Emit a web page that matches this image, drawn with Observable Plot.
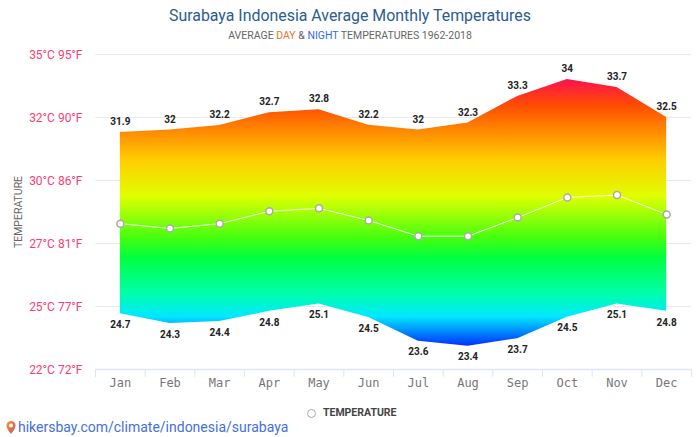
<!DOCTYPE html>
<html><head><meta charset="utf-8">
<script src="https://cdn.jsdelivr.net/npm/d3@7"></script>
<script src="https://cdn.jsdelivr.net/npm/@observablehq/plot@0.6"></script>
<style>
html,body{margin:0;padding:0;background:#fff;overflow:hidden;width:700px;height:437px;font-family:Roboto,sans-serif;position:relative}
.abs{position:absolute;white-space:nowrap}
#chart{position:absolute;left:0;top:40px}
#chart svg{background:transparent;display:block}
</style></head><body>
<div class="abs" style="left:0;width:700px;top:6px;text-align:center;font-size:15.9px;line-height:20px;color:#2b5c92">Surabaya Indonesia Average Monthly Temperatures</div>
<div class="abs" style="left:0;width:700px;top:29px;text-align:center;font-size:10.5px;line-height:14px;color:#666">AVERAGE <span style="color:#f4702c">DAY</span> &amp; <span style="color:#2f6bf0">NIGHT</span> TEMPERATURES 1962-2018</div>
<div id="chart"></div>
<div class="abs" style="left:307px;top:409px;width:7px;height:7px;border:1.5px solid #aaa;border-radius:50%;background:#fff"></div>
<div class="abs" style="left:323px;top:406px;font-size:10.5px;line-height:14px;font-weight:700;color:#444">TEMPERATURE</div>
<svg class="abs" style="left:5px;top:420px" width="12" height="15" viewBox="0 0 12 15"><defs><linearGradient id="pin" x1="0" y1="0" x2="1" y2="1"><stop offset="0" stop-color="#f2a13b"/><stop offset=".6" stop-color="#e8664a"/><stop offset="1" stop-color="#3fa6a0"/></linearGradient></defs><path d="M6 1a4.6 4.6 0 0 0-4.6 4.6C1.400 9 6 14 6 14s4.600-5 4.600-8.400A4.600 4.600 0 0 0 6 1z" fill="url(#pin)"/><circle cx="6" cy="5.600" r="2" fill="#fff"/></svg>
<div class="abs" style="left:18px;top:419px;font-size:14px;line-height:17px;color:#4470e0">hikersbay.com/climate/indonesia/surabaya</div>
<script>
const months = ["Jan","Feb","Mar","Apr","May","Jun","Jul","Aug","Sep","Oct","Nov","Dec"];
const highLabels = [31.9,32,32.2,32.7,32.8,32.2,32,32.3,33.3,34,33.7,32.5];
const lowLabels = [24.7,24.3,24.4,24.8,25.1,24.5,23.6,23.4,23.7,24.5,25.1,24.8];
const highDrawn = [31.78,31.88,32.07,32.6,32.72,32.08,31.88,32.17,33.27,33.97,33.64,32.4];
const lowDrawn = [24.3,23.9,23.98,24.4,24.7,24.15,23.17,22.96,23.27,24.16,24.7,24.4];
const meanTemp = [28.02,27.82,28.02,28.53,28.65,28.15,27.5,27.5,28.27,29.1,29.2,28.4];
const yTicks = [22,24.6,27.2,29.8,32.4,35];
const yTickLabels = ["22°C 72°F","25°C 77°F","27°C 81°F","30°C 86°F","32°C 90°F","35°C 95°F"];
const gradientStops = [[0,"#ff1050"],[0.1,"#ff4d00"],[0.3,"#ffcc00"],[0.44,"#e0ff00"],[0.6,"#40ff10"],[0.67,"#00ff40"],[0.8,"#00ffa8"],[0.89,"#00e8ff"],[1,"#0030ff"]];

const rows = months.map((m,i)=>({i,m,hi:highDrawn[i],lo:lowDrawn[i],mean:meanTemp[i],hl:highLabels[i],ll:lowLabels[i]}));
const idx = months.map((_,i)=>i);
const bounds = [...idx.map(i=>i-0.5), 11.5];

const gradientDef = () => {
  const s = d3.create("svg:g");
  const g = s.append("defs").append("linearGradient").attr("id","tempGrad").attr("x1",0).attr("y1",0).attr("x2",0).attr("y2",1);
  gradientStops.forEach(([o,c])=>g.append("stop").attr("offset",o).attr("stop-color",c));
  return s.node();
};

const plot = Plot.plot({
  width:700, height:360,
  marginLeft:95, marginRight:9, marginTop:14, marginBottom:31,
  style:{fontFamily:"Roboto, sans-serif",background:"transparent",overflow:"visible"},
  x:{domain:[-0.5,11.5],label:null},
  y:{domain:[22,35],label:null},
  marks:[
    gradientDef,
    Plot.ruleY(yTicks.slice(1),{stroke:"#e9e9ee",strokeWidth:1}),
    Plot.ruleY([22],{stroke:"#dfe5f2",strokeWidth:1.5}),
    Plot.axisY({ticks:yTicks,tickFormat:v=>yTickLabels[yTicks.indexOf(v)],tickSize:0,tickPadding:13,fontSize:12,dy:1,fill:"#ff3d74",label:null}),
    Plot.axisX({ticks:bounds,tickFormat:()=>"",tickSize:8,stroke:"#dfe5f2",label:null}),
    Plot.axisX({ticks:idx,tickFormat:i=>months[i],tickSize:0,tickPadding:9,fontSize:12,fontFamily:"DejaVu Sans Mono, monospace",fill:"#777",label:null}),
    Plot.text(["TEMPERATURE"],{frameAnchor:"left",textAnchor:"middle",dx:-77,rotate:-90,fontSize:10.5,fill:"#666"}),
    Plot.areaY(rows,{x:"i",y1:"lo",y2:"hi",fill:"url(#tempGrad)"}),
    Plot.line(rows,{x:"i",y:"mean",stroke:"#fff",strokeWidth:1,strokeOpacity:.9}),
    Plot.dot(rows,{x:"i",y:"mean",r:3.5,fill:"#fff",stroke:"#aaa",strokeWidth:1.5}),
    Plot.text(rows,{x:"i",y:"hi",text:d=>String(d.hl),dy:-10.5,fontSize:10,fontWeight:700,fill:"#222"}),
    Plot.text(rows,{x:"i",y:"lo",text:d=>String(d.ll),dy:11,fontSize:10,fontWeight:700,fill:"#222"})
  ]
});
document.getElementById("chart").append(plot);
</script>
</body></html>
